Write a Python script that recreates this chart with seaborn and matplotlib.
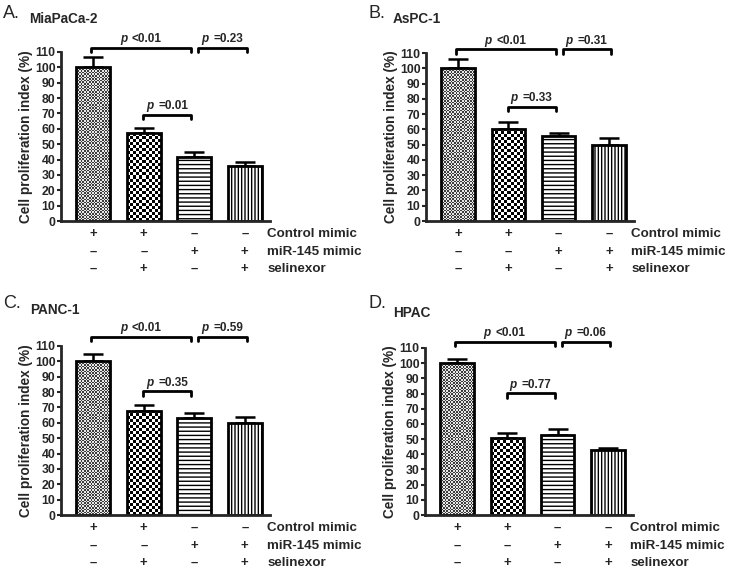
import numpy as np
import matplotlib
matplotlib.use("Agg")
import matplotlib.pyplot as plt
from matplotlib.colors import ListedColormap
from matplotlib.transforms import blended_transform_factory
import seaborn as sns

# ---- data ----
groups = ["Control", "Control+selinexor", "miR-145", "miR-145+selinexor"]
cell_lines = ["MiaPaCa-2", "AsPC-1", "PANC-1", "HPAC"]
panel_letters = ["A.", "B.", "C.", "D."]

means_mia = [100, 57, 41.5, 35.5]
err_mia = [7, 3.5, 3.5, 3.2]
means_aspc = [100, 60.5, 55.5, 50]
err_aspc = [6, 4, 2.3, 4.5]
means_panc = [100, 68, 63, 60]
err_panc = [5, 3.8, 3.5, 3.5]
means_hpac = [100, 51, 52.5, 43]
err_hpac = [3, 2.8, 4, 1.2]

p_main = ["<0.01", "<0.01", "<0.01", "<0.01"]
p_right = ["=0.23", "=0.31", "=0.59", "=0.06"]
p_mid = ["=0.01", "=0.33", "=0.35", "=0.77"]

row_names = ["Control mimic", "miR-145 mimic", "selinexor"]
control_mimic = ["+", "+", "\u2013", "\u2013"]
mir145_mimic = ["\u2013", "\u2013", "+", "+"]
selinexor = ["\u2013", "+", "\u2013", "+"]
yticks = list(range(0, 111, 10))

all_means = [means_mia, means_aspc, means_panc, means_hpac]
all_errs = [err_mia, err_aspc, err_panc, err_hpac]

# ---- layout (pixels: left, top, right, bottom) ----
W, H = 731, 572
boxes = [(61, 52, 270, 221), (426, 53, 634, 221), (61, 346, 270, 515), (425, 348, 633, 515)]
main_y = [112.8, 112.4, 115.8, 114.2]
mid_y = [69.3, 74.7, 80.5, 80.1]
letter_pos = [(3, 14), (368, 14), (3, 303), (368, 303)]
name_pos = [(29, 19), (393, 19), (30, 310), (393, 313)]

sns.set_style("ticks")
plt.rcParams["font.family"] = ["Liberation Sans", "DejaVu Sans"]
plt.rcParams["hatch.linewidth"] = 1.0
narrow = ["Liberation Sans Narrow", "Liberation Sans", "DejaVu Sans"]

fig = plt.figure(figsize=(W / 100, H / 100), dpi=100)


def checker(ax, patch, cell_px, c1, c2):
    x0, y0 = patch.get_x(), patch.get_y()
    w, h = patch.get_width(), patch.get_height()
    p0 = ax.transData.transform((x0, y0))
    p1 = ax.transData.transform((x0 + w, y0 + h))
    nx = max(1, int(round(abs(p1[0] - p0[0]) / cell_px)))
    ny = max(1, int(round(abs(p1[1] - p0[1]) / cell_px)))
    arr = np.add.outer(np.arange(ny), np.arange(nx)) % 2
    im = ax.imshow(arr, extent=(x0, x0 + w, y0, y0 + h), origin="lower",
                   cmap=ListedColormap([c1, c2]), interpolation="nearest",
                   aspect="auto", zorder=1.5)
    im.set_clip_path(patch)


def bracket(ax, x0, x1, y, d):
    ax.plot([x0, x0, x1, x1], [y - d, y, y, y - d], color="black", lw=2,
            clip_on=False, solid_joinstyle="round")


def ptext(ax, xc, y, val):
    ax.annotate("p", xy=(xc, y), xytext=(-10, 2), textcoords="offset points",
                ha="right", va="bottom", fontsize=8.5, fontweight="bold",
                fontstyle="italic", annotation_clip=False)
    ax.annotate(val, xy=(xc, y), xytext=(-6.5, 2), textcoords="offset points",
                ha="left", va="bottom", fontsize=8.5, fontweight="bold",
                annotation_clip=False)


for i in range(4):
    l, t, r, b = boxes[i]
    ax = fig.add_axes([l / W, 1 - b / H, (r - l) / W, (b - t) / H])
    means = all_means[i]
    errs = all_errs[i]

    sns.barplot(x=groups, y=means, ax=ax, width=0.67, color="white",
                edgecolor="black", linewidth=2, errorbar=None, zorder=2)
    ax.errorbar(range(4), means, yerr=[np.zeros(4), errs], fmt="none",
                ecolor="black", elinewidth=1.8, capsize=7, capthick=1.8, zorder=1)

    ax.set_xlim(-0.64, 3.5)
    ax.set_ylim(0, 110)

    bars = ax.patches[:4]
    for bar in bars:
        bar.set_facecolor("none")
        bar.set_edgecolor("black")
        bar.set_zorder(2)
    checker(ax, bars[0], 1.6, "#3c3c3c", "#e8e8e8")
    checker(ax, bars[1], 3.0, "black", "white")
    bars[2].set_hatch("----")
    bars[3].set_hatch("|||||")
    for bar in bars[2:]:
        bar.set_facecolor("white")
    ax.set_xlim(-0.64, 3.5)
    ax.set_ylim(0, 110)

    ax.set_xticks([])
    ax.set_xlabel("")
    ax.set_yticks(yticks)
    ax.set_yticklabels([str(v) for v in yticks], fontsize=8.8, fontweight="bold",
                       family=narrow)
    ax.tick_params(axis="y", length=3, width=1.5, pad=1)
    ax.set_ylabel("Cell proliferation index (%)", fontsize=9.8,
                  fontweight="bold", labelpad=1.5)
    sns.despine(ax=ax)
    ax.spines["left"].set_linewidth(2)
    ax.spines["bottom"].set_linewidth(2)

    # significance brackets
    d = 4.3 * 110 / (b - t)
    bracket(ax, -0.05, 1.94, main_y[i], d)
    bracket(ax, 2.08, 3.04, main_y[i], d)
    bracket(ax, 0.99, 1.94, mid_y[i], d)
    ptext(ax, (-0.05 + 1.94) / 2, main_y[i], p_main[i])
    ptext(ax, (2.08 + 3.04) / 2, main_y[i], p_right[i])
    ptext(ax, (0.99 + 1.94) / 2, mid_y[i], p_mid[i])

    # treatment table under the axis
    trans = blended_transform_factory(ax.transData, ax.transAxes)
    hpx = b - t
    row_y = [-13 / hpx, -31 / hpx, -48 / hpx]
    for row, signs in enumerate([control_mimic, mir145_mimic, selinexor]):
        for k, s in enumerate(signs):
            ax.text(k, row_y[row], s, transform=trans, ha="center", va="center",
                    fontsize=9.5, fontweight="bold")
        ax.text(3.45, row_y[row], row_names[row], transform=trans, ha="left",
                va="center", fontsize=9.6, fontweight="bold")

    lx, ly = letter_pos[i]
    fig.text(lx / W, 1 - ly / H, panel_letters[i], fontsize=13, va="center", ha="left")
    nx_, ny_ = name_pos[i]
    fig.text(nx_ / W, 1 - ny_ / H, cell_lines[i], fontsize=9.8, fontweight="bold",
             va="center", ha="left")

fig.savefig("out.png", dpi=100)
